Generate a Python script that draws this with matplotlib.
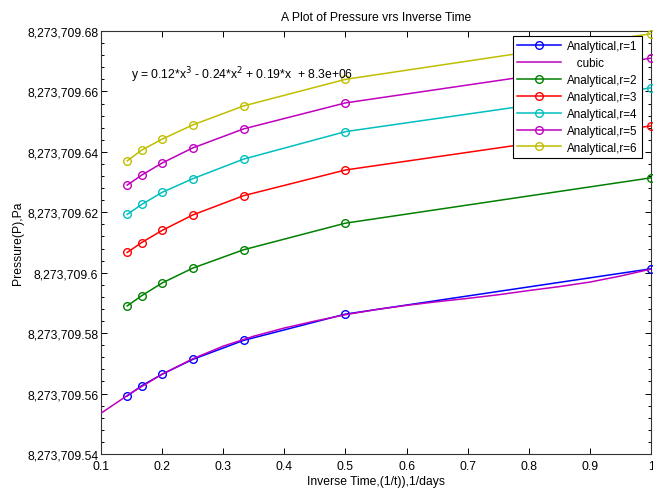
import matplotlib
matplotlib.use("Agg")
import matplotlib.pyplot as plt
from matplotlib.ticker import FixedLocator, FuncFormatter
import numpy as np

plt.rcParams['font.family'] = ['Liberation Sans', 'DejaVu Sans']
plt.rcParams['mathtext.fontset'] = 'custom'
plt.rcParams['mathtext.rm'] = 'Liberation Sans'
plt.rcParams['mathtext.it'] = 'Liberation Sans'
plt.rcParams['mathtext.default'] = 'regular'

BASE = 8273709.0

inv_time = [1/7, 1/6, 1/5, 1/4, 1/3, 1/2, 1.0]

# Pressure values (offset from 8,273,709 Pa)
r1 = [0.5592, 0.5626, 0.5664, 0.5713, 0.5776, 0.5863, 0.6013]
r2 = [0.5890, 0.5924, 0.5966, 0.6015, 0.6076, 0.6164, 0.6314]
r3 = [0.6067, 0.6100, 0.6140, 0.6191, 0.6255, 0.6340, 0.6486]
r4 = [0.6193, 0.6226, 0.6266, 0.6311, 0.6376, 0.6467, 0.6612]
r5 = [0.6290, 0.6323, 0.6363, 0.6413, 0.6476, 0.6562, 0.6710]
r6 = [0.6370, 0.6406, 0.6442, 0.6489, 0.6552, 0.6640, 0.6791]

cubic_x = [0.1, 0.15, 0.2, 0.25, 0.3, 0.35, 0.4, 0.45, 0.5, 0.55, 0.6, 0.65,
           0.7, 0.75, 0.8, 0.85, 0.9, 0.95, 1.0]
cubic_y = [0.5535, 0.5603, 0.5664, 0.5715, 0.5757, 0.5790, 0.5817, 0.5840,
           0.5861, 0.5878, 0.5892, 0.5904, 0.5915, 0.5927, 0.5941, 0.5954,
           0.5969, 0.5989, 0.6012]

series_labels = ['Analytical,r=1', 'Analytical,r=2', 'Analytical,r=3',
                 'Analytical,r=4', 'Analytical,r=5', 'Analytical,r=6']
colors = [(0, 0, 1), (0, 0.5, 0), (1, 0, 0), (0, 0.75, 0.75),
          (0.75, 0, 0.75), (0.75, 0.75, 0)]
series = [r1, r2, r3, r4, r5, r6]

y_ticks = [0.54, 0.56, 0.58, 0.60, 0.62, 0.64, 0.66, 0.68]
x_ticks = [0.1, 0.2, 0.3, 0.4, 0.5, 0.6, 0.7, 0.8, 0.9, 1.0]

fig = plt.figure(figsize=(6.53, 4.89), dpi=100)
ax = fig.add_axes([101/653, 1-455/489, 550/653, 423/489])

handles = []
for i, (vals, lab, c) in enumerate(zip(series, series_labels, colors)):
    h, = ax.plot(inv_time, [BASE + v for v in vals], '-o', color=c, lw=1.1,
                 markersize=5.5, markerfacecolor='none', markeredgewidth=1.0,
                 label=lab, clip_on=False, zorder=3)
    handles.append(h)
    if i == 0:
        hc, = ax.plot(cubic_x, [BASE + v for v in cubic_y], '-',
                      color=(0.75, 0, 0.75), lw=1.1, label='   cubic', zorder=4)
        handles.append(hc)

ax.set_xlim(0.1, 1.0)
ax.set_ylim(BASE + 0.54, BASE + 0.68)
ax.xaxis.set_major_locator(FixedLocator(x_ticks))
ax.yaxis.set_major_locator(FixedLocator([BASE + t for t in y_ticks]))
ax.yaxis.set_minor_locator(FixedLocator([BASE + 0.54 + 0.004*k for k in range(36)]))

def yfmt(v, pos):
    s = f"{v:,.2f}"
    if s.endswith('0'):
        s = s[:-1]
    return s

def xfmt(v, pos):
    return f"{v:g}"

ax.yaxis.set_major_formatter(FuncFormatter(yfmt))
ax.xaxis.set_major_formatter(FuncFormatter(xfmt))

ax.tick_params(axis='both', which='both', direction='in', top=True, right=True,
               labelsize=8.7, colors='black')
ax.tick_params(which='major', length=4.5, width=0.7)
ax.tick_params(axis='y', which='major', pad=2)
ax.tick_params(axis='x', which='major', pad=4.5)
ax.tick_params(which='minor', length=2.5, width=0.7)
for sp in ax.spines.values():
    sp.set_linewidth(0.8)
    sp.set_color('#333333')

ax.set_title('A Plot of Pressure vrs Inverse Time', fontsize=8.7, pad=8)
ax.set_xlabel('Inverse Time,(1/t)),1/days', fontsize=8.7, labelpad=2)
ax.set_ylabel('Pressure(P),Pa', fontsize=8.7, labelpad=2)

ax.text(0.055, 0.897, r'y = 0.12*x$^{\mathsf{3}}$ - 0.24*x$^{\mathsf{2}}$ + 0.19*x  + 8.3e+06',
        transform=ax.transAxes, fontsize=8.7, ha='left', va='center')

leg = ax.legend(handles=handles, loc='upper right', bbox_to_anchor=(0.983, 0.988),
                prop={'size': 8.4}, frameon=True, fancybox=False, edgecolor='black',
                framealpha=1, borderpad=0.35, labelspacing=0.42, handlelength=3.8,
                handletextpad=0.5, borderaxespad=0.0)
leg.get_frame().set_linewidth(0.8)

fig.savefig('out.png', dpi=100)
